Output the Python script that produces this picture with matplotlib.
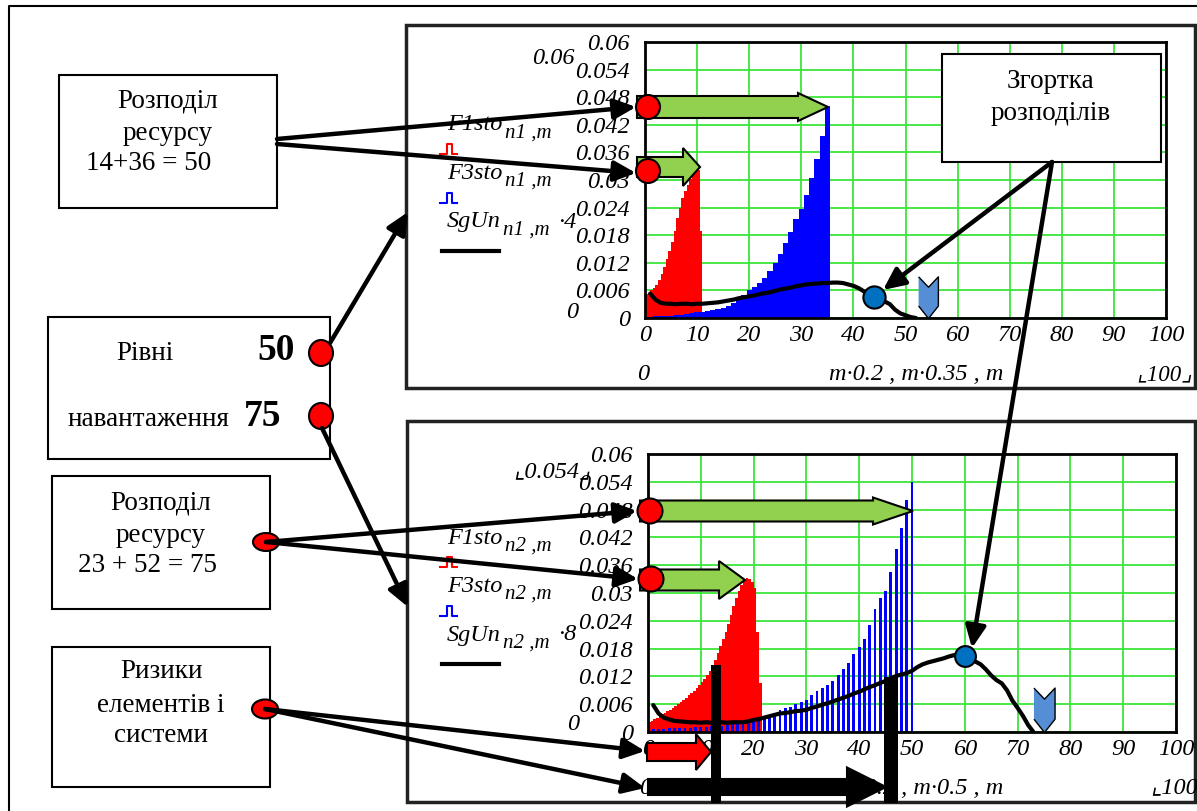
import numpy as np
import matplotlib
matplotlib.use("Agg")
import matplotlib.pyplot as plt
from matplotlib.patches import Rectangle, Ellipse, Polygon

W, H = 1197, 811
SERIF = ["Liberation Serif", "DejaVu Serif"]
SERIF_SYM = ["Liberation Serif", "DejaVu Sans"]

# ---- data ----
# top chart (load level 50)
top_red_x = [0, 0.5, 1, 1.5, 2, 2.5, 3, 3.5, 4, 4.5, 5, 5.5, 6, 6.5, 7, 7.5, 8, 8.5, 9, 9.5, 10, 10.5]
top_red_v = [0.0052, 0.0055, 0.0060, 0.0065, 0.0072, 0.0083, 0.0096, 0.0110, 0.0128, 0.0145, 0.0165,
             0.0190, 0.0218, 0.0240, 0.0260, 0.0276, 0.0290, 0.0302, 0.0311, 0.0317, 0.0322, 0.0190]
top_blue_x = list(range(0, 36))
top_blue_v = [0.0003, 0.0003, 0.0004, 0.0004, 0.0005, 0.0005, 0.0006, 0.0007, 0.0008, 0.0010,
              0.0012, 0.0014, 0.0016, 0.0018, 0.0020, 0.0022, 0.0027, 0.0033, 0.0040, 0.0050,
              0.0060, 0.0067, 0.0076, 0.0088, 0.0102, 0.0120, 0.0140, 0.0163, 0.0188, 0.0215,
              0.0237, 0.0268, 0.0305, 0.0345, 0.0395, 0.0460]
top_sg_x = list(range(1, 53))
top_sg_v = [0.0053, 0.0040, 0.0033, 0.0031, 0.0031, 0.0030, 0.0031, 0.0031, 0.0030, 0.0031,
            0.0031, 0.0032, 0.0033, 0.0034, 0.0036, 0.0038, 0.0040, 0.0043, 0.0045, 0.0047,
            0.0049, 0.0052, 0.0054, 0.0056, 0.0059, 0.0062, 0.0064, 0.0066, 0.0069, 0.0071,
            0.0073, 0.0074, 0.0075, 0.0076, 0.0076, 0.0077, 0.0077, 0.0076, 0.0073, 0.0070,
            0.0065, 0.0058, 0.0051, 0.0046, 0.0041, 0.0036, 0.0030, 0.0018, 0.0010, 0.0006,
            0.0002, 0.0]
top_conv_x = 44
top_load_x = 54.4

# bottom chart (load level 75)
bot_red_x = [0, 0.5, 1, 1.5, 2, 2.5, 3, 3.5, 4, 4.5, 5, 5.5, 6, 6.5, 7, 7.5, 8, 8.5, 9, 9.5, 10,
             10.5, 11, 11.5, 12, 12.5, 13, 13.5, 14, 14.5, 15, 15.5, 16, 16.5, 17, 17.5, 18, 18.5,
             19, 19.5, 20, 20.5, 21]
bot_red_v = [0.0022, 0.0024, 0.0027, 0.0030, 0.0034, 0.0038, 0.0041, 0.0045, 0.0048, 0.0052, 0.0056,
             0.0060, 0.0064, 0.0068, 0.0073, 0.0079, 0.0084, 0.0089, 0.0095, 0.0101, 0.0108,
             0.0115, 0.0123, 0.0132, 0.0142, 0.0155, 0.0170, 0.0185, 0.0200, 0.0215, 0.0233,
             0.0252, 0.0272, 0.0290, 0.0305, 0.0318, 0.0327, 0.0332, 0.0330, 0.0324, 0.0310,
             0.0215, 0.0106]
bot_blue_x = list(range(0, 51))
bot_blue_v = [0.0007, 0.0007, 0.0007, 0.0007, 0.0008, 0.0008, 0.0008, 0.0009, 0.0009, 0.0010,
              0.0010, 0.0011, 0.0012, 0.0013, 0.0014, 0.0015, 0.0017, 0.0019, 0.0021, 0.0023,
              0.0026, 0.0029, 0.0032, 0.0036, 0.0041, 0.0047, 0.0051, 0.0055, 0.0060, 0.0064,
              0.0068, 0.0080, 0.0088, 0.0095, 0.0102, 0.0110, 0.0122, 0.0136, 0.0150, 0.0168,
              0.0184, 0.0200, 0.0230, 0.0265, 0.0290, 0.0305, 0.0345, 0.0395, 0.0440, 0.0500,
              0.0540]
bot_sg_x = list(range(1, 74))
bot_sg_v = [0.0058, 0.0040, 0.0031, 0.0027, 0.0024, 0.0023, 0.0022, 0.0021, 0.0021, 0.0020,
            0.0021, 0.0020, 0.0021, 0.0021, 0.0020, 0.0021, 0.0021, 0.0021, 0.0023, 0.0026,
            0.0028, 0.0031, 0.0034, 0.0037, 0.0040, 0.0041, 0.0043, 0.0045, 0.0046, 0.0048,
            0.0052, 0.0055, 0.0059, 0.0062, 0.0066, 0.0070, 0.0074, 0.0078, 0.0083, 0.0087,
            0.0092, 0.0097, 0.0101, 0.0106, 0.0110, 0.0116, 0.0121, 0.0124, 0.0127, 0.0132,
            0.0140, 0.0146, 0.0150, 0.0153, 0.0156, 0.0159, 0.0163, 0.0166, 0.0166, 0.0163,
            0.0158, 0.0152, 0.0146, 0.0135, 0.0122, 0.0112, 0.0105, 0.0090, 0.0068, 0.0052,
            0.0035, 0.0015, 0.0]
bot_conv_x = 60
bot_load_x = 75

yticks = [0, 0.006, 0.012, 0.018, 0.024, 0.03, 0.036, 0.042, 0.048, 0.054, 0.06]
ytick_labels = ["0", "0.006", "0.012", "0.018", "0.024", "0.03", "0.036", "0.042", "0.048", "0.054", "0.06"]
xticks = list(range(0, 101, 10))

load_marker = [(-0.2375, 1.0), (0, 0.75), (0.2375, 1.0), (0.2375, 0.3), (0, 0), (-0.2375, 0.3)]

fig = plt.figure(figsize=(W / 100, H / 100), dpi=100)
fig.patch.set_facecolor("white")


def make_chart(px_left, px_top, px_right, px_bottom):
    ax = fig.add_axes([px_left / W, 1 - px_bottom / H, (px_right - px_left) / W, (px_bottom - px_top) / H])
    ax.set_xlim(0, 100)
    ax.set_ylim(0, 0.06)
    ax.set_xticks(xticks)
    ax.set_xticklabels([str(t) for t in xticks])
    ax.set_yticks(yticks)
    ax.set_yticklabels(ytick_labels)
    ax.grid(True, color="#3BE63B", lw=1.3)
    ax.set_axisbelow(True)
    ax.tick_params(length=0, labelsize=17.5, pad=5)
    ax.tick_params(axis="y", pad=11)
    for lab in ax.get_xticklabels() + ax.get_yticklabels():
        lab.set_fontfamily(SERIF)
        lab.set_fontstyle("italic")
    for s in ax.spines.values():
        s.set_linewidth(2)
        s.set_color("black")
    return ax


ax1 = make_chart(645, 42, 1166, 318)
ax1.bar(top_red_x, top_red_v, width=0.5, align="edge", color="#FF0000", lw=0)
ax1.bar(top_blue_x, top_blue_v, width=1.0, color="#0000FF", lw=0)
ax1.plot(top_sg_x, top_sg_v, color="black", lw=3, solid_capstyle="round", zorder=4)
i = top_sg_x.index(top_conv_x)
ax1.plot([top_conv_x], [top_sg_v[i]], "o", ms=16, mfc="#0070C0", mec="black", mew=1.5, zorder=6, clip_on=False)
ax1.plot([top_load_x], [0], marker=load_marker, ms=60, mfc="#558ED5", mec="black", mew=1, zorder=6,
         clip_on=False, ls="none")

ax2 = make_chart(648, 454, 1176, 732)
ax2.bar(bot_red_x, bot_red_v, width=0.5, align="edge", color="#FF0000", lw=0)
ax2.bar(bot_blue_x, bot_blue_v, width=0.55, color="#0000FF", lw=0)
ax2.plot(bot_sg_x, bot_sg_v, color="black", lw=3, solid_capstyle="round", zorder=4)
i = bot_sg_x.index(bot_conv_x)
ax2.plot([bot_conv_x], [bot_sg_v[i]], "o", ms=15, mfc="#0070C0", mec="black", mew=1.5, zorder=6, clip_on=False)
ax2.plot([bot_load_x], [0], marker=load_marker, ms=64, mfc="#558ED5", mec="black", mew=1, zorder=6,
         clip_on=False, ls="none")

# ---- overlay in pixel coordinates ----
ov = fig.add_axes([0, 0, 1, 1], zorder=10)
ov.set_xlim(0, W)
ov.set_ylim(H, 0)
ov.axis("off")
ov.patch.set_alpha(0)

# frames
ov.plot([9, 9, W], [H, 6, 6], color="black", lw=1.5)
ov.add_patch(Rectangle((406, 25), 789, 363, fill=False, ec="#222222", lw=2.5))
ov.add_patch(Rectangle((407, 421), 788, 381, fill=False, ec="#222222", lw=2.5))


def box(x0, y0, x1, y1):
    ov.add_patch(Rectangle((x0, y0), x1 - x0, y1 - y0, fc="white", ec="black", lw=1.5, zorder=2))


def txt(x, y, s, size=19.5, **kw):
    ov.text(x, y, s, ha=kw.pop("ha", "center"), va="center", fontsize=size, family=SERIF, zorder=5, **kw)


box(59, 75, 277, 208)
txt(168, 101, "Розподіл")
txt(168, 133, "ресурсу")
txt(149, 163, "14+36 = 50")

box(48, 317, 330, 459)
txt(145, 354, "Рівні")
txt(148, 420, "навантаження")
txt(276, 351, "50", size=27, weight="bold")
txt(263, 416, "75", size=27, weight="bold")

box(52, 476, 270, 609)
txt(161, 503, "Розподіл")
txt(161, 535, "ресурсу")
txt(148, 565, "23 + 52 = 75")

box(52, 647, 270, 787)
txt(162, 672, "Ризики")
txt(161, 705, "елементів і")
txt(161, 735, "системи")

box(942, 54, 1161, 162)
txt(1051, 82, "Згортка")
txt(1051, 113, "розподілів")


# chart side texts
def itxt(x, y, s, size=17.5, ha="center"):
    ov.text(x, y, s, ha=ha, va="center", fontsize=size, family=SERIF_SYM, style="italic", zorder=3)


itxt(575, 58, "0.06", ha="right")
itxt(572, 313, "0")
itxt(643, 375, "0")
itxt(1003, 375, "m·0.2 , m·0.35 , m", ha="right")
itxt(1164, 375, "⌞100⌟", size=16.5)
itxt(552, 472, "⌞0.054⌟")
itxt(573, 725, "0")
itxt(645, 788, "0")
itxt(1003, 788, "m·0.2 , m·0.5 , m", ha="right")
itxt(1150, 788, "⌞100", ha="left")


# legends
def legend(y0, n, mult):
    names = ["F1sto", "F3sto", "SgUn"]
    for k, nm in enumerate(names):
        y = y0 + k * 48.5
        itxt(447, y, nm, ha="left")
        itxt(505 if k < 2 else 503, y + 8, n + " ,m", size=15, ha="left")
        if k == 2:
            itxt(558, y, "·" + mult, ha="left")
    for k, col in enumerate(["#FF0000", "#0000FF"]):
        yb = y0 + 29 + k * 48.5
        ov.plot([440, 447, 447, 452, 452, 457], [yb, yb, yb - 10, yb - 10, yb, yb], color=col, lw=1.5)
    ov.plot([442, 499], [y0 + 126, y0 + 126], color="black", lw=3)


legend(125, "n1", "4")
legend(538, "n2", "8")


def block_arrow(x0, x1, yc, bh, hh, hl, fc, ec="black", z=6):
    pts = [(x0, yc - bh / 2), (x1 - hl, yc - bh / 2), (x1 - hl, yc - hh / 2), (x1, yc),
           (x1 - hl, yc + hh / 2), (x1 - hl, yc + bh / 2), (x0, yc + bh / 2)]
    ov.add_patch(Polygon(pts, closed=True, fc=fc, ec=ec, lw=1.5, zorder=z))


green = "#92D050"
block_arrow(637, 828, 107, 22, 28, 30, green)
block_arrow(637, 700, 167, 20, 38, 17, green)
block_arrow(640, 913, 511, 21, 27, 40, green)
block_arrow(640, 745, 580, 21, 38, 26, green)
block_arrow(647, 711, 752, 18, 36, 15, "#FF0000")
block_arrow(648, 886, 787, 16, 39, 39, "black")
ov.add_patch(Rectangle((711, 665), 10, 138, fc="black", ec="none", zorder=7))
ov.add_patch(Rectangle((884, 677), 14, 126, fc="black", ec="none", zorder=7))


def dot(x, y, w, h):
    ov.add_patch(Ellipse((x, y), w, h, fc="#FF0000", ec="black", lw=1.5, zorder=8))


dot(648, 107, 24, 24)
dot(648, 171, 24, 24)
dot(650, 511, 25, 25)
dot(651, 579, 25, 25)
dot(321, 353, 24, 26)
dot(321, 416, 24, 26)
dot(266, 542, 26, 18)
dot(265, 709, 26, 19)


def conn(x0, y0, x1, y1):
    ov.annotate("", xy=(x1, y1), xytext=(x0, y0),
                arrowprops=dict(arrowstyle="-|>,head_length=0.6,head_width=0.28", lw=3.2, color="black",
                                mutation_scale=22, shrinkA=0, shrinkB=0), zorder=9)


conn(277, 139, 636, 107)
conn(277, 144, 636, 173)
conn(330, 343, 408, 212)
conn(322, 428, 408, 607)
conn(266, 542, 637, 511)
conn(266, 542, 638, 579)
conn(265, 709, 645, 751)
conn(265, 709, 645, 788)
conn(1052, 162, 883, 290)
conn(1052, 162, 972, 648)

fig.savefig("out.png", dpi=100, facecolor="white")
